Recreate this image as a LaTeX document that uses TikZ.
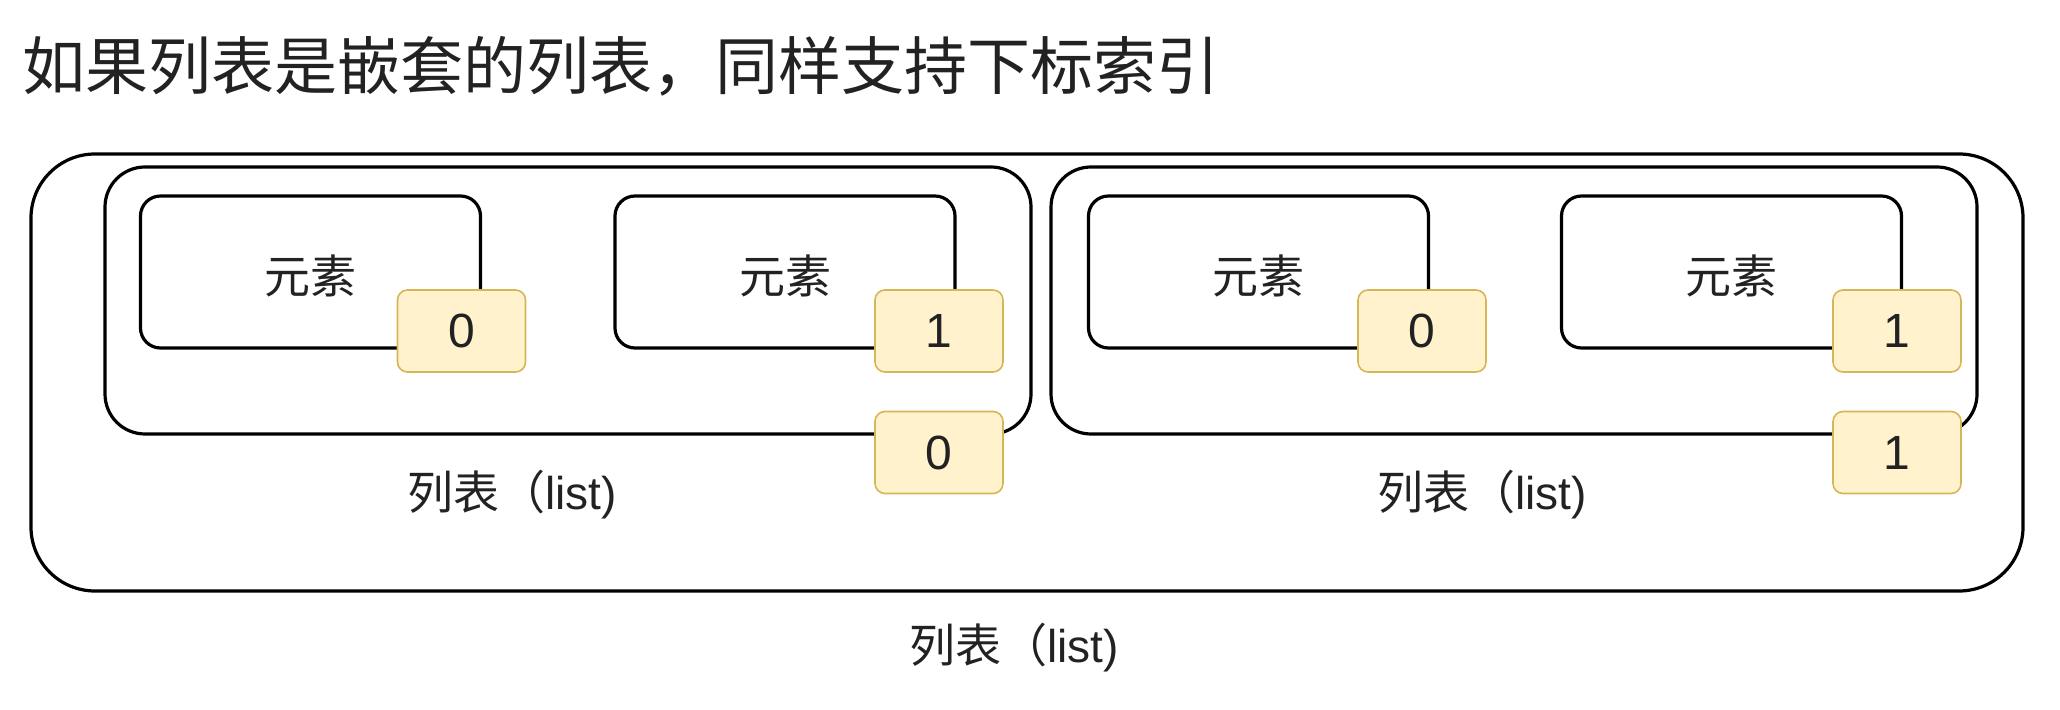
\documentclass[tikz,border=0pt]{standalone}
\usepackage{fontspec}
\setmainfont{Liberation Sans}
\newfontfamily\cjk{Noto Sans CJK SC}
\definecolor{idxfill}{HTML}{FFF2CC}
\definecolor{idxdraw}{HTML}{D6B656}
\definecolor{txt}{HTML}{222222}
\tikzset{
  box/.style={draw=black, line width=1.6pt, rectangle, inner sep=0pt},
  outerbox/.style={box, rounded corners=32pt, minimum width=996pt, minimum height=218.5pt},
  midbox/.style={box, rounded corners=20pt, minimum width=463pt, minimum height=133.5pt},
  elembox/.style={box, rounded corners=10pt, minimum width=170pt, minimum height=76pt},
  idx/.style={draw=idxdraw, fill=idxfill, line width=0.8pt, rounded corners=5pt, minimum width=64pt, minimum height=41pt, inner sep=0pt, font=\fontsize{24}{28}\selectfont, text=txt},
  elemtxt/.style={font=\fontsize{23}{28}\selectfont\cjk, text=txt, inner sep=0pt},
  lbl/.style={font=\fontsize{23}{28}\selectfont, text=txt, inner sep=0pt},
}
\newcommand{\listlbl}{{\cjk 列表（}list)}
\begin{document}
\begin{tikzpicture}[x=0.5pt,y=-0.5pt]
\useasboundingbox (0,0) rectangle (2060,710);
\node[anchor=west, inner sep=0pt, font=\fontsize{31.5}{36}\selectfont\cjk, text=txt] (title) at (22,66) {如果列表是嵌套的列表，同样支持下标索引};
% outer list
\node[outerbox] (outer) at (1027,372.5) {};
\node[lbl] (outerlbl) at (1014,648) {\listlbl};
% middle lists
\node[midbox] (midL) at (568,300.5) {};
\node[midbox] (midR) at (1514,300.5) {};
\node[lbl] (midLlbl) at (512,495) {\listlbl};
\node[lbl] (midRlbl) at (1482,495) {\listlbl};
% elements
\node[elembox] (eLL) at (310.5,272) {};
\node[elembox] (eLR) at (785,272) {};
\node[elembox] (eRL) at (1258.5,272) {};
\node[elembox] (eRR) at (1731.5,272) {};
\node[elemtxt] (tLL) at (310.5,276) {元素};
\node[elemtxt] (tLR) at (785,276) {元素};
\node[elemtxt] (tRL) at (1258.5,276) {元素};
\node[elemtxt] (tRR) at (1731.5,276) {元素};
% indices
\node[idx] (iLL) at (461.5,331) {0};
\node[idx] (iLR) at (939,331) {1};
\node[idx] (iRL) at (1422,331) {0};
\node[idx] (iRR) at (1897,331) {1};
\node[idx] (iL) at (939,452.5) {0};
\node[idx] (iR) at (1897,452.5) {1};
\end{tikzpicture}
\end{document}
